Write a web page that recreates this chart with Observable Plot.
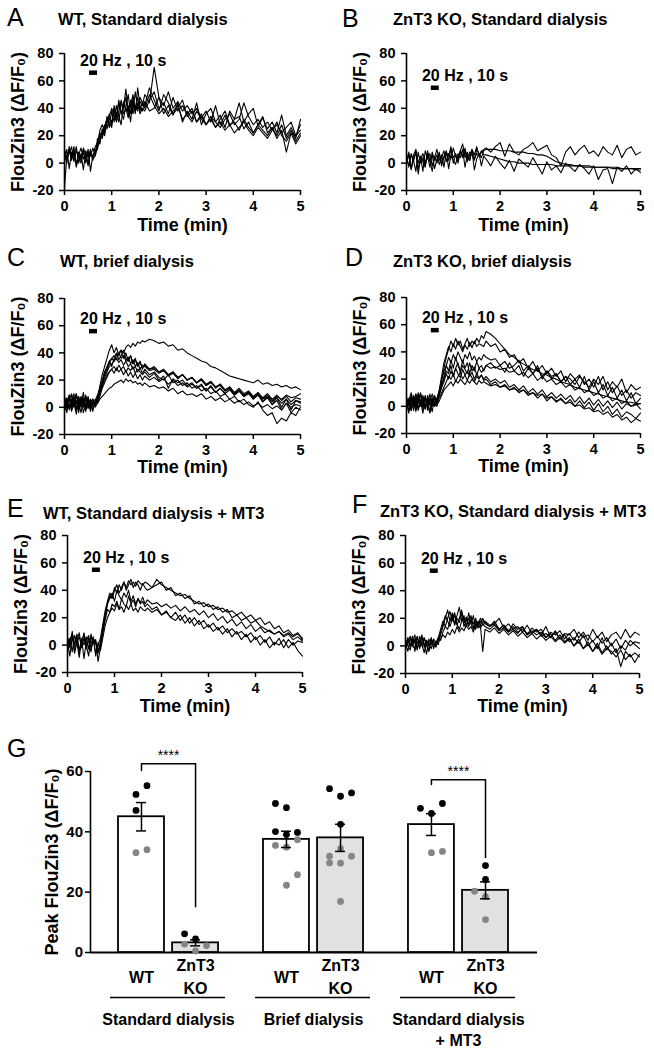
<!DOCTYPE html>
<html>
<head>
<meta charset="utf-8">
<script src="https://cdn.jsdelivr.net/npm/d3@7"></script>
<script src="https://cdn.jsdelivr.net/npm/@observablehq/plot@0.6"></script>
<style>
  html, body { margin: 0; padding: 0; background: #fff; }
  #fig { position: relative; width: 654px; height: 1050px; background: #fff; overflow: hidden; }
</style>
</head>
<body>
<div id="fig"></div>
<script>
// ---------------- DATA ----------------
// sampling grid (min): dense part 0–1.65 min, sparse part 1.7–5.0 min
const timeMin = d3.range(34).map(i => i * 0.05).concat(d3.range(34).map(i => 1.7 + i * 0.1));
const stimWindow = [0.53, 0.70];          // 20 Hz, 10 s train (min)
const stimLabel = "20 Hz , 10 s";
const traceYLabel = "FlouZin3 (ΔF/F₀)";
const traceXLabel = "Time (min)";
const timeTicks = [0, 1, 2, 3, 4, 5];
const fluorTicks = [-20, 0, 20, 40, 60, 80];

// A: WT, standard dialysis
const wtStandard = [
  [-18,5,10,2,8,0,6,11,3,7, -2,9,4,12,15,22,20,28,25,33, 30,38,32,44,36,40,48,35,46,38, 52,40,45,42,
   50,44,70,48,42,52,40,45,38,42, 36,40,33,38,30,42,28,35,27,32, 34,25,30,22,28,24,20,26,18,24, 8,22,20,28],
  [8,2,9,4,12,-3,6,3,10,0, 8,5,11,6,18,14,25,22,30,36, 28,40,34,46,38,32,42,50,36,44, 40,48,38,45,
   42,55,46,38,50,44,36,40,46,34, 38,30,36,28,34,26,32,38,28,30, 24,32,26,22,28,34,22,26,20,28, 18,24,16,22],
  [3,10,-4,8,5,12,0,7,-5,9, 4,10,2,8,10,20,18,26,32,26, 38,30,42,34,28,45,38,42,30,48, 36,55,42,38,
   45,38,40,48,36,42,35,44,30,38, 32,44,28,36,40,30,35,26,38,32, 44,30,36,40,27,33,25,30,22,35, 20,26,18,32],
  [6,0,12,4,9,-2,8,2,11,6, 0,8,3,5,12,16,24,20,30,34, 40,35,30,38,46,36,40,33,42,50, 38,44,36,40,
   38,46,52,40,44,36,48,38,42,35, 30,38,32,28,34,30,26,32,36,28, 32,44,34,28,32,26,30,24,28,22, 26,30,20,24],
  [10,4,7,12,1,9,5,0,8,3, 10,-6,6,8,14,24,28,24,34,30, 26,42,36,30,44,40,54,38,44,36, 42,38,48,44,
   40,50,42,36,40,34,38,42,32,36, 40,30,34,28,32,26,30,24,28,22, 26,30,24,20,26,22,18,24,30,20, 16,22,14,20]
];
// B: ZnT3 KO, standard dialysis
const koStandard = [
  [2,8,-4,6,10,0,5,-6,9,3, 7,-2,4,10,2,6,-3,8,5,12, 0,6,3,9,14,4,8,2,10,6, 12,5,8,10,
   11,8,12,15,5,14,8,6,10,12, 15,9,11,13,6,4,-2,8,12,6, 10,13,7,9,5,12,8,6,13,4, 10,12,6,8],
  [5,-3,7,2,-6,8,0,4,-2,9, 1,6,-4,3,7,0,5,8,2,10, 4,7,0,9,5,11,3,8,6,2, 10,7,4,9,
   10,10,10,9,9,9,8,8,8,7, 7,6,6,5,3,1,0,-1,-1,-2, -2,-2,-2,-3,-3,-3,-3,-3,-3,-4, -4,-4,-4,-4],
  [0,6,-5,3,8,-8,4,1,-3,7, 2,-6,5,0,8,-2,4,9,-4,6, 2,-1,7,4,10,-3,6,2,9,-5, 3,7,-2,5,
   3,-2,5,0,-4,2,-6,3,0,-3, 4,-2,-8,1,-5,-2,-7,0,-3,-6, -1,-4,-8,-2,-12,-5,-4,-15,-3,-6, -2,-8,-4,-7],
  [4,-2,6,1,9,-4,3,7,0,5, -3,8,2,6,-1,4,9,1,7,3, 11,5,2,8,4,9,1,6,10,3, 7,5,9,6,
   6,5,4,3,2,1,1,0,0,0, -1,-1,-1,-1,-1,-2,-2,-2,-2,-2, -2,-3,-3,-3,-3,-3,-3,-4,-4,-4, -4,-4,-5,-5]
];
// C: WT, brief dialysis
const wtBrief = [
  [3,-4,8,2,10,-2,5,0,7,-3, 4,1,6,2,8,14,18,24,28,32, 36,34,38,40,42,40,44,46,44,47, 45,48,47,49,
   48,50,49,47,48,45,46,42,43,40, 38,36,34,33,30,29,27,25,23,22, 21,20,19,18,20,17,18,16,17,15, 16,14,15,13],
  [-2,6,0,9,3,-5,7,2,11,0, 5,-3,4,1,6,16,24,30,36,42, 46,40,44,38,42,36,40,34,38,32, 36,30,34,28,
   32,28,30,26,28,24,26,22,24,20, 22,18,20,16,18,15,16,12,14,10, 12,9,11,7,9,6,8,4,7,3, 6,2,5,4],
  [5,0,8,-3,4,10,1,6,-4,3, 7,0,2,4,3,6,8,10,12,14, 15,17,18,19,20,18,21,19,20,18, 19,17,18,16,
   18,15,16,14,15,12,14,10,12,9, 10,8,10,6,8,5,7,4,6,3, 5,2,4,1,3,0,2,-1,1,-2, 3,0,2,1],
  [1,7,-2,5,0,9,3,-4,6,2, 8,-1,3,2,5,10,16,22,26,30, 32,34,36,33,35,31,34,30,32,28, 30,26,29,25,
   28,24,26,22,20,24,18,20,16,18, 14,16,12,14,10,12,8,10,6,8, 4,6,2,0,4,-2,-6,-4,-12,-8, -10,-4,-6,0],
  [8,2,-1,6,3,10,-2,4,0,8, 2,5,-3,6,4,12,18,26,30,34, 36,38,35,40,36,38,34,37,32,35, 30,33,28,31,
   30,27,28,25,27,23,25,21,24,20, 22,18,21,17,19,15,17,13,15,11, 14,10,12,8,11,7,10,6,9,5, 8,4,7,6],
  [-3,4,9,0,6,-2,8,3,1,7, -1,4,6,0,3,8,14,18,22,26, 28,30,27,31,28,30,26,29,27,30, 25,28,26,24,
   26,22,25,20,23,14,21,18,20,16, 18,14,17,12,16,11,14,10,13,9, 12,8,10,6,9,4,7,2,5,-2, 3,-4,0,-2],
  [4,-1,6,10,2,5,-4,7,3,9, 0,6,2,5,9,14,20,26,28,34, 30,36,40,35,38,42,36,34,38,32, 35,30,33,29,
   31,28,29,26,27,24,26,22,24,20, 22,18,21,16,19,14,17,12,15,10, 13,8,11,6,10,4,8,2,7,0, 6,-2,5,3],
  [6,1,9,-2,7,3,0,8,5,-1, 6,3,0,2,7,12,16,20,24,26, 28,25,29,26,28,24,27,23,26,22, 25,21,24,20,
   23,20,22,19,21,17,20,16,18,15, 17,14,16,12,15,11,14,10,13,9, 12,8,11,7,10,6,9,5,8,6, 9,7,8,10]
];
// D: ZnT3 KO, brief dialysis
const koBrief = [
  [2,-5,6,0,9,-3,4,8,-1,5, 2,-4,7,3,10,18,28,36,42,48, 44,50,45,48,42,46,50,44,48,46, 50,47,52,50,
   55,53,50,46,42,38,36,33,31,29, 27,26,24,23,21,20,18,17,16,14, 13,12,11,10,9,8,7,6,5,4, 3,3,2,2],
  [-2,5,1,8,-4,6,3,0,7,-1, 4,9,2,5,12,22,32,38,44,40, 46,42,48,44,40,45,42,47,43,48, 44,46,45,44,
   48,44,46,40,42,36,38,32,35,28, 33,26,30,24,28,22,26,18,24,20, 23,16,20,14,22,12,18,10,15,8, 12,6,10,8],
  [4,0,8,-3,5,2,9,-2,6,1, -5,5,0,4,10,16,20,26,24,30, 22,28,32,25,30,27,24,32,26,29, 23,28,25,27,
   30,28,29,27,28,25,26,23,25,21, 24,19,22,18,20,16,18,14,16,12, 14,10,12,8,10,6,8,4,6,2, 4,0,2,-2],
  [7,1,-3,6,2,10,0,5,-2,8, 3,6,1,0,8,14,22,30,26,34, 28,36,30,26,34,28,32,24,30,26, 33,28,30,26,
   30,32,28,30,25,32,26,30,22,28, 24,30,20,26,22,24,18,22,20,16, 22,18,14,20,16,22,12,18,14,20, 10,16,12,14],
  [0,6,-2,4,9,-1,3,7,0,5, -4,2,6,1,4,8,12,14,16,18, 15,19,17,20,18,16,19,17,20,18, 16,19,17,18,
   17,15,16,14,15,12,13,11,12,9, 10,8,9,6,7,4,5,2,3,0, 1,-2,-1,-4,-3,-6,-4,-8,-6,-10, -8,-12,-9,-11],
  [3,-3,7,1,-1,8,4,-5,5,2, 9,0,3,5,6,10,14,18,22,20, 24,18,22,25,20,23,19,24,21,18, 22,20,23,19,
   20,16,18,14,16,12,14,10,12,8, 10,6,9,4,7,3,6,2,5,0, 4,-1,3,-3,2,-4,0,-6,-2,-8, -4,-6,-9,-5],
  [-1,4,10,2,6,-2,5,1,8,-3, 6,3,0,6,11,20,26,30,36,32, 38,34,40,36,32,38,35,40,34,37, 33,36,34,38,
   36,34,35,30,33,28,30,34,26,30, 24,28,22,26,20,24,18,22,16,20, 14,22,12,18,10,16,8,14,6,12, 4,10,2,6],
  [5,2,-3,7,0,4,10,3,-2,6, 1,5,8,2,9,14,18,24,20,26, 22,28,24,21,27,23,26,22,25,20, 24,21,23,20,
   22,18,20,17,19,14,16,12,15,10, 13,9,12,7,10,6,9,5,8,3, 7,2,6,1,5,0,4,-1,3,-2, 2,0,1,2]
];
// E: WT, standard dialysis + MT3
const wtStandardMT3 = [
  [2,-8,6,0,8,-4,5,-10,3,7, -2,4,-6,0,5,15,25,32,38,35, 42,38,44,40,46,42,47,44,46,43, 47,45,44,46,
   45,42,44,46,40,42,36,38,34,36, 30,32,28,30,26,28,24,26,20,22, 18,20,16,18,14,12,10,8,10,6, 8,4,6,3],
  [6,0,8,-4,3,9,-2,5,0,-8, 6,2,4,-12,-2,8,20,30,36,34, 40,44,38,42,46,40,44,48,42,46, 44,40,45,42,
   40,42,48,44,42,40,38,36,37,34, 32,30,31,28,29,26,27,24,25,22, 24,20,22,18,20,15,17,12,14,9, 11,7,9,4],
  [-3,4,8,-6,2,6,-1,9,0,3, -5,5,1,-4,2,10,18,26,24,30, 28,32,26,34,30,28,36,30,33,28, 34,30,32,28,
   30,26,28,22,24,20,18,22,16,20, 14,18,12,15,10,13,8,12,6,10, 4,8,2,6,0,4,-2,2,0,4, -2,2,-4,-8],
  [4,-2,10,0,7,-6,3,8,-3,5, 1,6,-8,2,-4,5,14,20,24,27, 25,30,26,28,24,29,26,30,25,27, 24,28,26,25,
   27,24,26,22,25,20,24,18,22,16, 20,15,18,13,16,11,14,9,12,8, 10,6,9,4,7,2,6,0,5,-2, 4,0,3,2],
  [0,5,-5,7,2,-9,4,0,6,-3, 8,1,3,-6,0,12,22,30,34,38, 32,40,36,33,38,35,40,32,36,30, 34,31,35,30,
   33,30,31,28,30,27,29,25,28,24, 26,22,25,20,23,18,21,16,19,14, 17,12,15,10,13,9,11,8,10,7, 9,6,8,5]
];
// F: ZnT3 KO, standard dialysis + MT3
const koStandardMT3 = [
  [2,-4,6,0,5,-3,7,1,-5,4, 0,6,-2,3,1,8,14,20,26,18, 24,16,22,28,18,20,14,24,16,22, 12,18,15,20,
   16,14,18,12,15,10,16,12,14,8, 13,10,12,6,10,8,11,5,9,4, 10,6,8,3,7,2,6,0,5,-2, 4,0,3,2],
  [-2,5,0,7,-4,3,0,6,2,-6, 5,1,4,-1,6,4,10,14,12,18, 22,15,20,17,24,14,19,16,22,13, 18,15,20,17,
   18,15,16,20,13,16,12,14,10,15, 9,12,8,14,6,11,5,9,8,12, 6,10,4,12,6,10,3,8,10,5, 12,6,10,8],
  [4,0,-3,5,2,7,-2,3,6,0, -4,5,2,0,3,5,8,6,10,8, 12,9,14,10,13,11,15,12,14,10, 16,13,15,-4,
   12,10,13,9,12,8,11,7,10,6, 9,5,8,4,7,3,6,2,5,0, 3,-2,1,-4,0,-6,-2,-4,-8,-3, -10,-6,-12,-6],
  [1,6,-1,3,8,-2,4,0,5,2, -3,4,0,2,6,12,18,14,20,25, 18,22,15,20,26,17,21,14,19,16, 20,14,18,15,
   17,14,16,12,15,11,14,10,12,9, 11,8,10,6,9,4,8,3,6,0, 5,-2,3,-4,2,-5,0,-6,-2,-15, -4,-8,-5,-8],
  [-3,3,7,0,-2,6,2,8,-1,4, 1,-2,5,3,4,10,16,22,18,14, 20,24,16,12,18,22,14,20,16,12, 18,15,13,16,
   14,12,15,11,13,10,12,9,14,8, 10,12,7,9,6,10,5,8,3,6, 2,8,0,4,-2,6,-3,2,-5,0, -3,4,1,-2]
];

// G: peak responses
const groups = ["Standard dialysis", "Brief dialysis", "Standard dialysis + MT3"];
const groupText = ["Standard dialysis", "Brief dialysis", "Standard dialysis\n+ MT3"];
const genotypes = ["WT", "ZnT3 KO"];
const genotypeText = ["WT", "ZnT3\nKO"];
// order: Std WT, Std KO, Brief WT, Brief KO, MT3 WT, MT3 KO
const peakMean = [45.0, 3.2, 37.5, 38.0, 42.4, 20.6];
const peakSem  = [4.7, 1.0, 2.7, 4.5, 3.6, 2.8];
const cellPoints = [
  [55.3, 52.4, 47.1, 33.1, 34.1],
  [6.2, 4.5, 2.8, 0.5, 2.3],
  [49.4, 48.0, 40.1, 39.1, 39.8, 35.5, 34.9, 37.4, 25.8, 22.3],
  [54.3, 51.8, 52.9, 42.5, 34.4, 31.9, 29.7, 29.6, 31.9, 16.9],
  [47.8, 49.4, 46.1, 33.1, 33.5],
  [28.8, 24.2, 20.3, 18.5, 10.9]
];
const cellShade = ["kkkgg", "kkggg", "kkkkkggggg", "kkkkgggggg", "kkkgg", "kkggg"];
const cellColumn = [
  [0.5, -0.5, -0.5, -0.5, 0.5],
  [-1, 0, -1, 0, 1],
  [-1, 0, -1, 0, 1, -1, 0, 1, 1, 0],
  [-1, 0, 1, 0, 0, -1, -1, 0, 1, 0],
  [-1, 1, 0, 0, 1],
  [0, 0, -1, 0, 0]
];
const peakTicks = [0, 20, 40, 60];
const peakYLabel = "Peak FlouZin3 (ΔF/F₀)";
const sigGroups = ["Standard dialysis", "Standard dialysis + MT3"];
const sigTop = [62.6, 57.3];
const sigLeftEnd = [60.3, 55.7];
const sigRightEnd = [15.2, 31.5];
const sigText = "****";

// ---------------- LAYOUT ----------------
const FONT = '"Liberation Sans", Arial, Helvetica, sans-serif';
const fig = document.getElementById("fig");

function put(node, left, top) {
  const d = document.createElement("div");
  d.style.cssText = `position:absolute;left:${left}px;top:${top}px;`;
  d.appendChild(node);
  fig.appendChild(d);
}
function htmlText(str, left, baseline, size, weight) {
  const d = document.createElement("div");
  d.textContent = str;
  d.style.cssText = `position:absolute;left:${left}px;top:${(baseline - 0.8465 * size).toFixed(1)}px;` +
    `font-family:${FONT};font-size:${size}px;font-weight:${weight};line-height:1;white-space:nowrap;color:#000;`;
  fig.appendChild(d);
}
const baseStyle = (size) => ({
  fontFamily: FONT, fontSize: size + "px", fontWeight: "bold", color: "#000",
  background: "transparent", overflow: "visible", maxWidth: "none"
});

function tracePanel(traces, p) {
  const rows = [];
  traces.forEach((tr, k) => tr.forEach((v, i) => {
    if (i < timeMin.length) rows.push({trace: k, t: timeMin[i], v});
  }));
  return Plot.plot({
    width: 327, height: 240,
    marginLeft: p.ml, marginRight: p.mr, marginTop: p.mt, marginBottom: p.mb,
    style: baseStyle(14.5),
    x: {domain: [0, 5], axis: null},
    y: {domain: [-20, 80], axis: null},
    marks: [
      Plot.line(rows, {x: "t", y: "v", z: "trace", stroke: "#000", strokeWidth: 1.1}),
      Plot.axisX({ticks: timeTicks, tickSize: 5, tickPadding: 5, strokeWidth: 1.5, label: null, tickFormat: d => String(d)}),
      Plot.axisY({ticks: fluorTicks, tickSize: 5, tickPadding: 6, strokeWidth: 1.5, label: null, tickFormat: d => String(d)}),
      Plot.ruleX([0], {strokeWidth: 1.6}),
      Plot.ruleY([-20], {strokeWidth: 1.6}),
      Plot.ruleY([p.stimY], {x1: stimWindow[0], x2: stimWindow[1], strokeWidth: 4.5}),
      Plot.text([stimLabel], {x: 0.33, y: p.stimY, dy: -12, text: d => d, textAnchor: "start", lineAnchor: "middle", fontSize: 16}),
      Plot.text([traceXLabel], {frameAnchor: "bottom", dy: p.xLabDy, text: d => d, textAnchor: "middle", lineAnchor: "middle", fontSize: 18}),
      Plot.text([traceYLabel], {frameAnchor: "left", rotate: -90, dx: -46, text: d => d, textAnchor: "middle", lineAnchor: "middle", fontSize: 18})
    ]
  });
}

const panels = [
  {traces: wtStandard,    left: 0,   top: 0,   ml: 64, mr: 27, mt: 53, mb: 50, stimY: 66,   xLabDy: 35,   letter: "A", lx: 7,   lb: 26,  title: "WT, Standard dialysis",            tx: 58,  tb: 25},
  {traces: koStandard,    left: 327, top: 0,   ml: 79, mr: 14, mt: 53, mb: 50, stimY: 55,   xLabDy: 35,   letter: "B", lx: 342, lb: 27,  title: "ZnT3 KO, Standard dialysis",       tx: 393, tb: 25},
  {traces: wtBrief,       left: 0,   top: 240, ml: 64, mr: 27, mt: 58, mb: 46, stimY: 56,   xLabDy: 33,   letter: "C", lx: 7,   lb: 266, title: "WT, brief dialysis",               tx: 60,  tb: 267},
  {traces: koBrief,       left: 327, top: 240, ml: 79, mr: 14, mt: 57, mb: 47, stimY: 56,   xLabDy: 33,   letter: "D", lx: 345, lb: 266, title: "ZnT3 KO, brief dialysis",          tx: 393, tb: 267},
  {traces: wtStandardMT3, left: 0,   top: 480, ml: 67, mr: 25, mt: 55, mb: 48, stimY: 55,   xLabDy: 34,   letter: "E", lx: 7,   lb: 517, title: "WT, Standard dialysis + MT3",      tx: 43,  tb: 519},
  {traces: koStandardMT3, left: 327, top: 480, ml: 78, mr: 15, mt: 55, mb: 47, stimY: 54.5, xLabDy: 33,   letter: "F", lx: 352, lb: 513, title: "ZnT3 KO, Standard dialysis + MT3", tx: 380, tb: 517}
];

for (const p of panels) {
  put(tracePanel(p.traces, p), p.left, p.top);
  htmlText(p.letter, p.lx, p.lb, 25, "normal");
  htmlText(p.title, p.tx, p.tb, 16.5, "bold");
}

// ---------------- PANEL G ----------------
const barRows = [];
const dotRows = [];
groups.forEach((g, gi) => genotypes.forEach((k, ki) => {
  const c = gi * 2 + ki;
  barRows.push({group: g, geno: k, label: genotypeText[ki], mean: peakMean[c], sem: peakSem[c]});
  cellPoints[c].forEach((v, j) => dotRows.push({group: g, geno: k, v, shade: cellShade[c][j], col: cellColumn[c][j]}));
}));
const bracketRows = [];
const sigRows = [];
sigGroups.forEach((g, i) => {
  bracketRows.push({group: g, geno: genotypes[0], v: sigLeftEnd[i]},
                   {group: g, geno: genotypes[0], v: sigTop[i]},
                   {group: g, geno: genotypes[1], v: sigTop[i]},
                   {group: g, geno: genotypes[1], v: sigRightEnd[i]});
  sigRows.push({group: g, top: sigTop[i]});
});

const GW = 654, GH = 330, GT = 51, GB = 98;

// axis layer (y axis, baseline, y label)
const axisLayer = Plot.plot({
  width: GW, height: GH, marginLeft: 90, marginRight: 117, marginTop: GT, marginBottom: GB,
  style: baseStyle(15),
  x: {domain: [0, 1], axis: null},
  y: {domain: [0, 60], axis: null},
  marks: [
    Plot.axisY({ticks: peakTicks, tickSize: 5, tickPadding: 2.5, strokeWidth: 1.5, label: null, tickFormat: d => String(d)}),
    Plot.ruleX([0], {strokeWidth: 1.6}),
    Plot.ruleY([0], {strokeWidth: 1.8}),
    Plot.text([peakYLabel], {frameAnchor: "left", rotate: -90, dx: -38, text: d => d, textAnchor: "middle", lineAnchor: "middle", fontSize: 18})
  ]
});
put(axisLayer, 0, 720);

const cols = [-1, -0.5, 0, 0.5, 1];
const barsLayer = Plot.plot({
  width: GW, height: GH, marginLeft: 118, marginRight: 146, marginTop: GT, marginBottom: GB,
  style: baseStyle(16),
  fx: {domain: groups, paddingInner: 0.31, paddingOuter: 0, round: false, axis: null, label: null},
  x: {domain: genotypes, paddingInner: 0.15, paddingOuter: 0, round: false, axis: null},
  y: {domain: [0, 60], axis: null},
  color: {domain: ["k", "g"], range: ["#000000", "#858585"]},
  marks: [
    Plot.barY(barRows.filter(d => d.geno === genotypes[0]), {fx: "group", x: "geno", y: "mean", fill: "#ffffff", stroke: "#000", strokeWidth: 1.8}),
    Plot.barY(barRows.filter(d => d.geno === genotypes[1]), {fx: "group", x: "geno", y: "mean", fill: "#e1e1e1", stroke: "#000", strokeWidth: 1.8}),
    ...cols.map(c => Plot.dot(dotRows.filter(d => d.col === c), {fx: "group", x: "geno", y: "v", fill: "shade", r: 3.4, dx: c * 11})),
    Plot.ruleX(barRows, {fx: "group", x: "geno", y1: d => d.mean - d.sem, y2: d => d.mean + d.sem, strokeWidth: 1.5}),
    Plot.tickY(barRows, {fx: "group", x: "geno", y: d => d.mean + d.sem, insetLeft: 18, insetRight: 18, strokeWidth: 1.5}),
    Plot.tickY(barRows, {fx: "group", x: "geno", y: d => d.mean - d.sem, insetLeft: 18, insetRight: 18, strokeWidth: 1.5}),
    Plot.line(bracketRows, {fx: "group", x: "geno", y: "v", z: "group", stroke: "#000", strokeWidth: 1.5}),
    Plot.text(sigRows, {fx: "group", y: "top", dy: -8, text: () => sigText, fontSize: 14, fontWeight: "normal", textAnchor: "middle", lineAnchor: "middle"}),
    Plot.text(barRows, {fx: "group", x: "geno", frameAnchor: "bottom", dy: 22.5, text: "label", textAnchor: "middle", lineAnchor: "middle", lineHeight: 1.47, fontSize: 16}),
    Plot.ruleY(groups, {fx: d => d, y: () => 0, dy: 45, insetLeft: -8, insetRight: -7, strokeWidth: 1.5}),
    Plot.text(groups, {fx: d => d, frameAnchor: "bottom", dy: 58, textAnchor: "middle", lineAnchor: "top", text: (d, i) => groupText[i], lineHeight: 1.3, fontSize: 16})
  ]
});
put(barsLayer, 0, 720);
htmlText("G", 7, 757, 25, "normal");
</script>
</body>
</html>
